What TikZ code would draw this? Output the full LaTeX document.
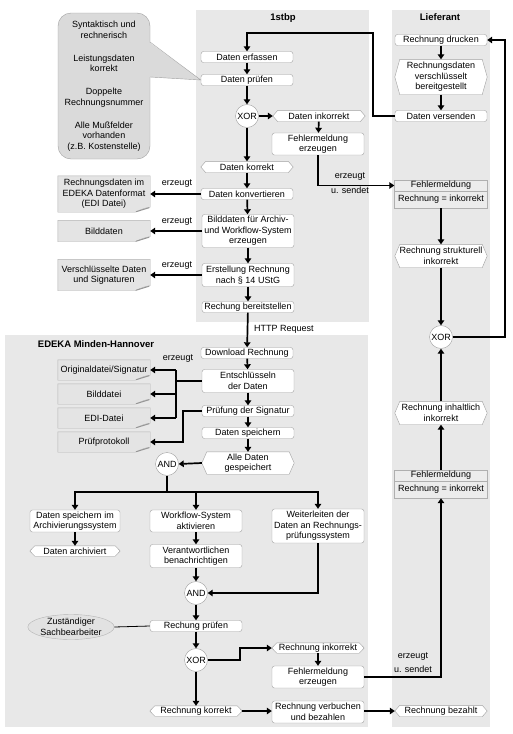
\documentclass[tikz,border=0pt]{standalone}
\usepackage{fontspec}
\setmainfont{Liberation Sans}
\usetikzlibrary{arrows.meta,shapes.geometric}
\definecolor{lanegray}{RGB}{232,232,232}
\definecolor{boxborder}{RGB}{160,160,160}
\definecolor{docfill}{RGB}{228,228,228}
\definecolor{docborder}{RGB}{180,180,180}
\definecolor{folddark}{RGB}{150,150,150}
\definecolor{infofill}{RGB}{236,236,236}
\definecolor{infoborder}{RGB}{175,175,175}
\definecolor{bubblefill}{RGB}{218,218,218}
\definecolor{ellfill}{RGB}{226,226,226}
\newcommand\nf{\fontsize{9}{10.5}\selectfont}
\newcommand\hexev[1]{\draw[draw=boxborder,fill=white] ([xshift=5pt]#1.north west) -- ([xshift=-5pt]#1.north east) -- (#1.east) -- ([xshift=-5pt]#1.south east) -- ([xshift=5pt]#1.south west) -- (#1.west) -- cycle;}
\newcommand\docshape[1]{\fill[docfill,draw=docborder] (#1.north west) -- (#1.north east) -- ([yshift=5pt]#1.south east) .. controls ([xshift=-6pt,yshift=4pt]#1.south east) .. ([xshift=-15pt]#1.south east) -- (#1.south west) -- cycle;
\draw[folddark,line width=1pt] ([xshift=-14pt,yshift=0.5pt]#1.south east) .. controls ([xshift=-6pt,yshift=3pt]#1.south east) .. ([xshift=-1pt,yshift=4.5pt]#1.south east);}
\pgfdeclarelayer{bg}
\pgfdeclarelayer{mid}
\pgfsetlayers{bg,mid,main}
\tikzset{
  fn/.style={draw=boxborder, fill=white, rounded corners=2.5pt, minimum width=92pt, minimum height=#1, inner sep=0.5pt, align=center, font=\nf},
  fn/.default=11pt,
  ev/.style={minimum width=92pt, minimum height=#1, inner sep=0pt, align=center, font=\nf},
  ev/.default=11pt,
  doc/.style={minimum width=92pt, minimum height=#1, inner sep=0pt, align=center, font=\nf},
  gate/.style={circle, draw=boxborder, fill=white, minimum size=23pt, inner sep=0pt, font=\nf},
  info/.style={draw=infoborder, fill=infofill, minimum width=93pt, minimum height=#1, inner sep=0pt, font=\nf},
  flow/.style={line width=1.7pt, -{Triangle[length=5pt,width=6.5pt]}},
  conn/.style={line width=1.7pt},
  lbl/.style={font=\nf, inner sep=0pt},
  title/.style={font=\fontsize{9.5}{11}\selectfont\bfseries, inner sep=0pt},
  ell/.style={ellipse, draw=docborder, fill=ellfill, minimum width=85pt, minimum height=25pt, inner sep=0pt, align=center, font=\nf},
}
\begin{document}
\begin{tikzpicture}[x=1pt,y=-1pt]
\useasboundingbox (0,0) rectangle (512,734);
\begin{pgfonlayer}{bg}
\fill[white] (0,0) rectangle (512,734);
\fill[lanegray] (196,10) rectangle (369,322);
\fill[lanegray] (392,10) rectangle (490,727);
\fill[lanegray] (5,335) rectangle (368,727);
\end{pgfonlayer}
% titles
\node[title] (t1) at (283,18) {1stbp};
\node[title] (t2) at (440,17) {Lieferant};
\node[title] (t3) at (96,344) {EDEKA Minden-Hannover};
% bubble
\node[draw=boxborder, fill=bubblefill, rounded corners=13pt, minimum width=92pt, minimum height=146pt, inner sep=0pt, align=center, font=\nf] (bubble) at (104,86) {Syntaktisch und\\rechnerisch\\[12.5pt]Leistungsdaten\\korrekt\\[12.5pt]Doppelte\\Rechnungsnummer\\[12.5pt]Alle Mußfelder\\vorhanden\\(z.B. Kostenstelle)};
% 1stbp
\node[fn] (erf) at (247,57) {Daten erfassen};
\node[fn] (pruef) at (247,80) {Daten prüfen};
\fill[bubblefill] (149,42) -- (pruef.west) -- (149,77) -- cycle;
\draw[boxborder] (150,42) -- (pruef.west) -- (150,77);
\node[gate] (xor1) at (247,116) {XOR};
\node[ev] (dink) at (319,116) {Daten inkorrekt};
\node[fn=22pt] (fehl1) at (318,144) {Fehlermeldung\\erzeugen};
\node[ev] (dkor) at (247,167) {Daten korrekt};
\node[fn] (konv) at (247,194) {Daten konvertieren};
\node[fn=33pt] (bild) at (248,231) {Bilddaten für Archiv-\\und Workflow-System\\erzeugen};
\node[fn=23pt] (erst) at (248,275) {Erstellung Rechnung\\nach § 14 UStG};
\node[fn] (bereit) at (248,307) {Rechung bereitstellen};
\node[doc=36pt] (d1) at (104,194) {Rechnungsdaten im\\EDEKA Datenformat\\(EDI Datei)};
\node[doc=21pt] (d2) at (104,231) {Bilddaten};
\node[doc=31pt] (d3) at (104,275) {Verschlüsselte Daten\\und Signaturen};
\node[lbl] (l1) at (177,184) {erzeugt};
\node[lbl] (l2) at (177,222) {erzeugt};
\node[lbl] (l3) at (177,266) {erzeugt};
% Lieferant
\node[fn] (druck) at (441,40) {Rechnung drucken};
\node[ev=35pt] (rvb) at (441,77) {Rechnungsdaten\\verschlüsselt\\bereitgestellt};
\node[fn] (vers) at (441,116) {Daten versenden};
\node[info=11pt] (fm1a) at (441,185.5) {Fehlermeldung};
\node[info=17pt] (fm1b) at (441,199.5) {Rechnung = inkorrekt};
\node[ev=23pt] (strukt) at (441,256) {Rechnung strukturell\\inkorrekt};
\node[gate] (xor2) at (441,337) {XOR};
\node[ev=23pt] (inh) at (441,413) {Rechnung inhaltlich\\inkorrekt};
\node[info=11pt] (fm2a) at (441,475.5) {Fehlermeldung};
\node[info=17pt] (fm2b) at (441,489.5) {Rechnung = inkorrekt};
\node[ev] (bez) at (441,711) {Rechnung bezahlt};
\node[lbl] (l4) at (350,177) {erzeugt};
\node[lbl] (l5) at (350,190) {u. sendet};
\node[lbl] (l6) at (413,657) {erzeugt};
\node[lbl] (l7) at (413,669) {u. sendet};
\node[lbl] (http) at (284,329) {HTTP Request};
% EDEKA
\node[fn] (down) at (247,353) {Download Rechnung};
\node[fn=23pt] (ent) at (248,381) {Entschlüsseln\\der Daten};
\node[fn] (sig) at (248,411) {Prüfung der Signatur};
\node[fn] (spei) at (248,433) {Daten speichern};
\node[ev=22pt] (alle) at (248,463) {Alle Daten\\gespeichert};
\node[gate] (and1) at (167,464) {AND};
\node[doc=20pt] (o1) at (104,370) {Originaldatei/Signatur};
\node[doc=20pt] (o2) at (104,394) {Bilddatei};
\node[doc=20pt] (o3) at (104,418) {EDI-Datei};
\node[doc=20pt] (o4) at (104,442) {Prüfprotokoll};
\node[lbl] (l8) at (178,359) {erzeugt};
\node[fn=22pt, minimum width=90pt] (arch) at (75,521) {Daten speichern im\\Archivierungssystem};
\node[ev=10pt, minimum width=90pt] (darch) at (75,551) {Daten archiviert};
\node[fn=22pt] (wf) at (196,521) {Workflow-System\\aktivieren};
\node[fn=23pt] (ver) at (196,556) {Verantwortlichen\\benachrichtigen};
\node[gate] (and2) at (196,593) {AND};
\node[fn=34pt] (weit) at (318,526) {Weiterleiten der\\Daten an Rechnungs-\\prüfungssystem};
\node[fn] (rp) at (196,626) {Rechung prüfen};
\node[ell] (sach) at (71,627) {Zuständiger\\Sachbearbeiter};
\node[gate] (xor3) at (196,660) {XOR};
\node[ev=10pt] (rink) at (318,648) {Rechnung inkorrekt};
\node[fn=22pt] (fehl2) at (318,677) {Fehlermeldung\\erzeugen};
\node[ev=10pt] (rkor) at (196,711) {Rechnung korrekt};
\node[fn=22pt] (verb) at (318,712) {Rechnung verbuchen\\und bezahlen};
% shapes on mid layer
\begin{pgfonlayer}{mid}
\foreach \n in {dink,dkor,rvb,strukt,inh,bez,alle,darch,rink,rkor} {\hexev{\n}}
\foreach \n in {d1,d2,d3,o1,o2,o3,o4} {\docshape{\n}}
\end{pgfonlayer}
% coordinates
\coordinate (c1) at (373,33);
\coordinate (c2) at (505,40);
\coordinate (jt) at (176,370);
\coordinate (jb) at (176,418);
\coordinate (js) at (183,442);
\coordinate (sp) at (167,492);
\coordinate (xk) at (240,660);
% connectors 1stbp
\draw[flow] (erf) -- (pruef);
\draw[flow] (pruef) -- (xor1);
\draw[flow] (xor1) -- (dink);
\draw[flow] (dink) -- (fehl1);
\draw[flow] (xor1) -- (dkor);
\draw[flow] (dkor) -- (konv);
\draw[flow] (konv) -- (bild);
\draw[flow] (bild) -- (erst);
\draw[flow] (erst) -- (bereit);
\draw[flow] (bereit) -- (down);
\draw[flow] (konv.west) -- (d1.east |- konv.west);
\draw[flow] (bild.west) -- (d2.east |- bild.west);
\draw[flow] (erst.west) -- (d3.east |- erst.west);
% Lieferant connectors
\draw[flow] (druck) -- (rvb);
\draw[flow] (rvb) -- (vers);
\draw[flow] (vers.west) -| (c1) -| (erf.north);
\draw[flow] (fehl1.south) |- (fm1a.west);
\draw[flow] (fm1b.south) -- (strukt.north);
\draw[flow] (strukt.south) -- (xor2.north);
\draw[flow] (inh.north) -- (xor2.south);
\draw[flow] (fm2a.north) -- (inh.south);
\draw[flow] (xor2.east) -| (c2) -- (druck.east);
% EDEKA connectors
\draw[flow] (down) -- (ent);
\draw[flow] (ent) -- (sig);
\draw[flow] (sig) -- (spei);
\draw[flow] (spei) -- (alle);
\draw[conn] (ent.west) -- (ent.west -| jt);
\draw[conn] (jt) -- (jb);
\draw[flow] (jt) -- (o1.east |- jt);
\draw[flow] (jt |- o2.east) -- (o2.east);
\draw[flow] (jb) -- (o3.east |- jb);
\draw[flow] (sig.west) -| (js) -- (o4.east |- js);
\draw[flow] (alle.west) -- (and1.east);
\draw[conn] (and1.south) -- (sp);
\draw[flow] (sp) -| (arch.north);
\draw[flow] (sp) -| (weit.north);
\draw[flow] (wf.north |- sp) -- (wf.north);
\draw[flow] (arch) -- (darch);
\draw[flow] (wf) -- (ver);
\draw[flow] (ver) -- (and2);
\draw[flow] (weit.south) |- (and2.east);
\draw[flow] (and2) -- (rp);
\draw[line width=0.8pt] (sach.east) -- (rp.west);
\draw[flow] (rp) -- (xor3);
\draw[flow] (xor3.east) -- (xk) |- (rink.west);
\draw[flow] (rink) -- (fehl2);
\draw[flow] (fehl2.east) -| (fm2b.south);
\draw[flow] (xor3) -- (rkor);
\draw[flow] (rkor.east) -- (verb.west |- rkor.east);
\draw[flow] (verb.east |- bez.west) -- (bez.west);
\end{tikzpicture}
\end{document}
